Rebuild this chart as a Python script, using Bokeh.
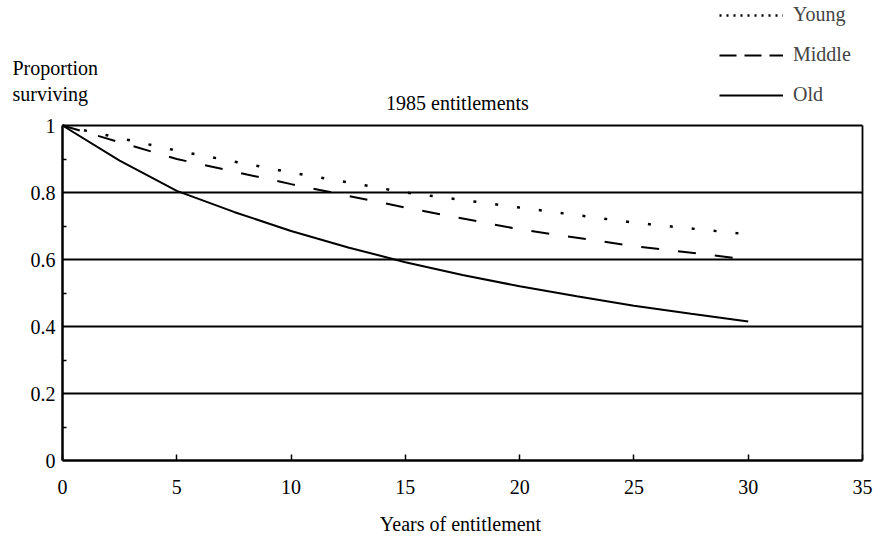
from bokeh.plotting import figure
from bokeh.models import Range1d, FixedTicker, Label, Legend, LegendItem, LinearAxis, Grid
from bokeh.embed import file_html
from bokeh.resources import INLINE

years_young = [0, 5, 10, 15, 20, 25, 30]
young = [1.0, 0.925, 0.86, 0.80, 0.755, 0.71, 0.675]
years_middle = [0, 5, 10, 15, 20, 25, 30]
middle = [1.0, 0.90, 0.825, 0.755, 0.69, 0.64, 0.60]
years_old = [0, 2.5, 5, 7.5, 10, 12.5, 15, 17.5, 20, 22.5, 25, 27.5, 30]
old = [1.0, 0.895, 0.805, 0.742, 0.685, 0.636, 0.592, 0.554, 0.52, 0.49, 0.462, 0.438, 0.415]

series_names = ["Young", "Middle", "Old"]
x_ticks = [0, 5, 10, 15, 20, 25, 30, 35]
y_ticks = [0, 0.2, 0.4, 0.6, 0.8, 1]
y_minor = [0.1, 0.3, 0.5, 0.7, 0.9]
grid_y = [0.2, 0.4, 0.6, 0.8, 1]
X_MIN, X_MAX = 0, 35
Y_MIN, Y_MAX = 0, 1

FONT = "Liberation Serif"
W, H = 873, 536
# where the chart box sits on the page (pixels)
BOX_L, BOX_R, BOX_T, BOX_B = 62, 862, 125, 460

xpx = (BOX_R - BOX_L) / (X_MAX - X_MIN)
ypx = (BOX_B - BOX_T) / (Y_MAX - Y_MIN)
x_range = Range1d(X_MIN - BOX_L / xpx, X_MAX + (W - BOX_R) / xpx)
y_range = Range1d(Y_MIN - (H - BOX_B) / ypx, Y_MAX + BOX_T / ypx)

p = figure(width=W, height=H, output_backend="svg", toolbar_location=None,
           x_range=x_range, y_range=y_range,
           min_border_left=0, min_border_right=0, min_border_top=0, min_border_bottom=0)
p.background_fill_color = "white"
p.border_fill_color = "white"
p.outline_line_color = None
# a range far away, used only so the legend samples have real data but stay off the canvas
p.extra_x_ranges = {"offscreen": Range1d(1000, 1001)}

p.xgrid.visible = False
if "cross_bounds" in Grid.properties():
    p.ygrid.ticker = FixedTicker(ticks=grid_y)
    p.ygrid.cross_bounds = (X_MIN, X_MAX)
    p.ygrid.grid_line_color = "black"
    p.ygrid.grid_line_width = 1.8
    p.ygrid.grid_line_alpha = 1.0
else:
    p.ygrid.visible = False
    p.segment(x0=X_MIN, x1=X_MAX, y0=grid_y, y1=grid_y, line_color="black", line_width=1.8)

xa = p.xaxis[0]
ya = p.yaxis[0]
xa.fixed_location = Y_MIN
xa.bounds = (X_MIN, X_MAX)
ya.fixed_location = X_MIN
ya.bounds = (Y_MIN, Y_MAX)
xa.ticker = FixedTicker(ticks=x_ticks)
ya.ticker = FixedTicker(ticks=y_ticks, minor_ticks=y_minor)
ya.major_label_overrides = {0: "0", 0.2: "0.2", 0.4: "0.4", 0.6: "0.6", 0.8: "0.8", 1: "1"}
for ax in (xa, ya):
    ax.axis_line_color = "black"
    ax.axis_line_width = 2.5
    ax.major_tick_line_color = "black"
    ax.major_tick_line_width = 1.5
    ax.major_label_text_font = FONT
    ax.major_label_text_font_size = "20px"
    ax.major_label_text_color = "black"
    ax.major_tick_out = 0
xa.major_tick_in = 6
xa.minor_tick_line_color = None
xa.major_label_standoff = 19
ya.major_tick_in = 0
ya.minor_tick_in = 4
ya.minor_tick_out = 0
ya.minor_tick_line_color = "black"
ya.minor_tick_line_width = 1.5
ya.major_label_standoff = 7

# right edge of the chart box
right = LinearAxis(fixed_location=X_MAX, bounds=(Y_MIN, Y_MAX),
                   ticker=FixedTicker(ticks=[]), major_label_text_font_size="0px",
                   axis_line_color="black", axis_line_width=1.8,
                   major_tick_line_color=None, minor_tick_line_color=None)
p.add_layout(right, "right")

p.line(years_young, young, line_color="black", line_width=2.5, line_dash="3 19")
p.line(years_middle, middle, line_color="black", line_width=2, line_dash="18 19")
p.line(years_old, old, line_color="black", line_width=2)

# legend samples: same series, drawn on the off-canvas range, with the legend's own dash style
ly = p.line(years_young, young, x_range_name="offscreen", line_color="black", line_width=2.5, line_dash="2 5")
lm = p.line(years_middle, middle, x_range_name="offscreen", line_color="black", line_width=2, line_dash="17 8")
lo = p.line(years_old, old, x_range_name="offscreen", line_color="black", line_width=2)
legend = Legend(items=[LegendItem(label=series_names[0], renderers=[ly]),
                       LegendItem(label=series_names[1], renderers=[lm]),
                       LegendItem(label=series_names[2], renderers=[lo])],
                location=(719, H - 106), orientation="vertical",
                glyph_width=64, glyph_height=20, label_height=20, spacing=17,
                padding=0, margin=0, label_standoff=10,
                label_text_font=FONT, label_text_font_size="20px",
                border_line_color=None, background_fill_alpha=0)
p.add_layout(legend, "center")

def lab(text, x, baseline, align="left"):
    p.add_layout(Label(x=x, y=H - baseline, x_units="screen", y_units="screen", text=text,
                       text_font=FONT, text_font_size="20px", text_color="black",
                       text_align=align, text_baseline="alphabetic"))

lab("Proportion", 12, 67)
lab("surviving", 12, 93)
lab("1985 entitlements", 457, 102, "center")
lab("Years of entitlement", 460, 523, "center")

open("out.html", "w").write(file_html(p, INLINE))
